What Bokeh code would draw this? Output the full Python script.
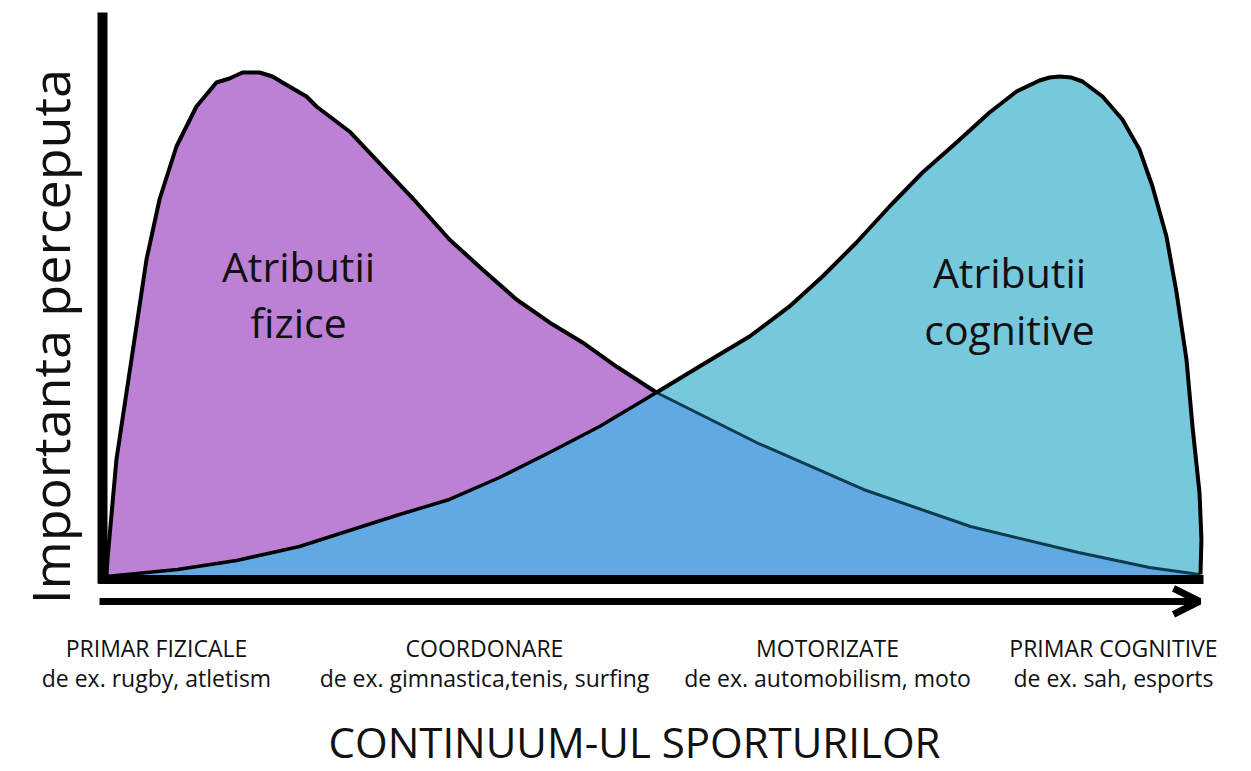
import math
from bokeh.plotting import figure
from bokeh.models import ColumnDataSource, Range1d, Arrow, OpenHead
from bokeh.core.properties import value
from bokeh.embed import file_html
from bokeh.resources import INLINE

# ---------------- data ----------------
# continuum position (0 = primarily physical, 100 = primarily cognitive)
# perceived importance (0..100)
fizic_x = [0, 0.09, 0.91, 1.83, 2.74, 3.66, 4.85, 6.40, 8.23, 10.06, 11.25, 12.44,
           14.00, 15.19, 16.10, 18.30, 19.21, 22.23, 25.25, 28.36, 31.38, 34.40,
           37.51, 40.53, 43.55, 46.66, 50.32, 59.47, 69.26, 79.05, 88.93,
           95.43, 100.0]
fizic_y = [0, 3.37, 23.17, 36.44, 49.50, 62.77, 74.65, 85.15, 93.07, 97.82, 98.62, 99.80,
           99.80, 99.01, 97.82, 95.05, 93.07, 88.12, 81.19, 74.06, 66.73, 60.79,
           54.85, 50.30, 46.34, 41.58, 36.44, 26.53, 17.23, 9.90, 4.75,
           1.78, 0.40]

cogn_x = [0, 6.50, 11.89, 17.66, 22.23, 26.81, 31.38, 35.96, 40.53, 45.11,
          50.32, 54.25, 58.83, 62.49, 65.51, 68.62, 71.64, 74.66, 77.77,
          80.79, 83.26, 85.36, 86.28, 87.19, 88.29, 89.30, 91.13, 92.95, 94.51, 95.70,
          96.98, 97.90, 98.81, 99.36, 100.0, 100.18, 100.09]
cogn_y = [0, 1.39, 3.17, 5.94, 9.11, 12.28, 15.25, 19.60, 24.55, 29.70,
          36.44, 41.58, 47.52, 53.47, 59.41, 66.14, 73.27, 80.00, 85.94,
          91.88, 96.04, 98.22, 98.81, 99.01, 98.81, 98.02, 95.05, 90.50, 84.55, 77.23,
          67.33, 56.24, 42.97, 29.70, 16.63, 7.33, 0.40]

cross_x = 50.32  # where the two curves meet

area_names = ["Atributii\nfizice", "Atributii\ncognitive"]
categories = ["PRIMAR FIZICALE", "COORDONARE", "MOTORIZATE", "PRIMAR COGNITIVE"]
examples = ["de ex. rugby, atletism", "de ex. gimnastica,tenis, surfing",
            "de ex. automobilism, moto", "de ex. sah, esports"]
category_pos = [4.57, 34.58, 65.97, 92.13]
x_title = "CONTINUUM-UL SPORTURILOR"
y_title = "Importanta perceputa"

# ---------------- colours / fonts ----------------
PURPLE = "#bc80d4"
CYAN = "#77c8dc"
BLUE = "#62a8e2"
TEAL_LINE = "#0d3b4f"
TXT = "#111111"
FONT = value("Open Sans")

W, H = 1245, 770
p = figure(width=W, height=H, output_backend="svg", toolbar_location=None,
           x_axis_location=None, y_axis_location=None,
           x_range=Range1d(-9.698, 104.21), y_range=Range1d(-38.42, 114.06),
           min_border=0, tools="")
p.grid.visible = False
p.outline_line_color = None
p.background_fill_color = "white"

# filled areas
p.patch(fizic_x + [100, 0], fizic_y + [0, 0], fill_color=PURPLE, line_color=None)
p.patch(cogn_x + [100, 0], cogn_y + [0, 0], fill_color=CYAN, line_color=None)

left_c = [(x, y) for x, y in zip(cogn_x, cogn_y) if x <= cross_x]
right_f = [(x, y) for x, y in zip(fizic_x, fizic_y) if x > cross_x]
ov = left_c + right_f
p.patch([q[0] for q in ov] + [100, 0], [q[1] for q in ov] + [0, 0],
        fill_color=BLUE, line_color=None)


def part(xs, ys, left):
    pts = [(x, y) for x, y in zip(xs, ys) if (x <= cross_x if left else x >= cross_x)]
    return [q[0] for q in pts], [q[1] for q in pts]


fr_x, fr_y = part(fizic_x, fizic_y, False)
fl_x, fl_y = part(fizic_x, fizic_y, True)
cl_x, cl_y = part(cogn_x, cogn_y, True)
cr_x, cr_y = part(cogn_x, cogn_y, False)

p.line(fr_x, fr_y, line_color=TEAL_LINE, line_width=3, line_join="round")
p.line(cl_x, cl_y, line_color="black", line_width=3.5, line_join="round")
p.line(fl_x, fl_y, line_color="black", line_width=4, line_join="round")
p.line(cr_x, cr_y, line_color="black", line_width=4, line_join="round")

# axes (drawn)
p.segment(x0=[-0.366], y0=[-1.39], x1=[-0.366], y1=[111.68],
          line_color="black", line_width=10)
p.segment(x0=[-0.73], y0=[-0.59], x1=[100.37], y1=[-0.59],
          line_color="black", line_width=9)
p.add_layout(Arrow(x_start=-0.64, y_start=-4.95, x_end=100.0, y_end=-4.95,
                   line_color="black", line_width=7,
                   end=OpenHead(size=26, line_width=7, line_color="black")))

# area labels
lab_t = area_names[0].split("\n") + area_names[1].split("\n")
p.text(x=[17.57, 17.57, 82.62, 82.62], y=[61.39, 50.30, 60.20, 48.91], text=lab_t,
       text_font=FONT, text_font_size="41px", text_align="center",
       text_baseline="alphabetic", text_color=TXT)

# category labels
src = ColumnDataSource(dict(x=category_pos + category_pos,
                            y=[-14.12] * 4 + [-20.2] * 4,
                            t=categories + examples))
p.text(x="x", y="y", text="t", source=src, text_font=FONT, text_font_size="23px",
       text_align="center", text_baseline="alphabetic", text_color=TXT)

# axis titles
p.text(x=[48.31], y=[-32.67], text=[x_title], text_font=FONT, text_font_size="42px",
       text_align="center", text_baseline="alphabetic", text_color=TXT)
p.text(x=[-5.21], y=[47.52], text=[y_title], angle=math.pi / 2, text_font=FONT,
       text_font_size="52px", text_align="center", text_baseline="alphabetic",
       text_color=TXT)

open("out.html", "w").write(file_html(p, INLINE))
